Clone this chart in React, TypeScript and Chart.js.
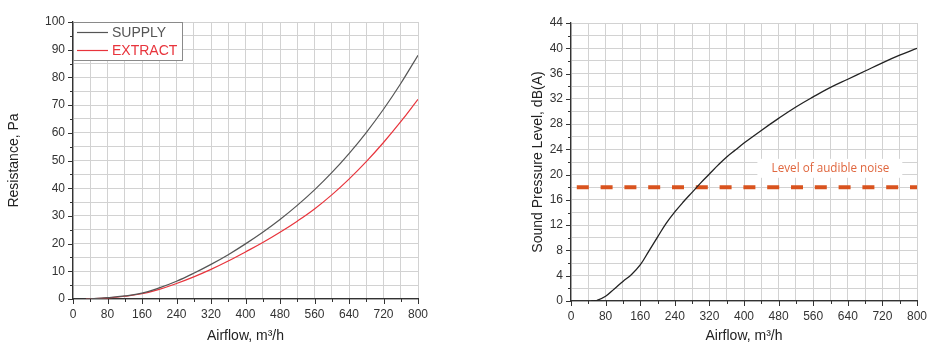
import React, { useEffect, useRef } from "react";
import { Chart, registerables } from "chart.js";

Chart.register(...registerables);

// ---------- data ----------
const resistanceAirflow = [30, 80, 120, 160, 200, 240, 280, 320, 360, 400, 440, 480, 520, 560, 600, 640, 680, 720, 760, 800];
const supplyResistance = [0, 0.5, 1.1, 2.1, 4.0, 6.4, 9.3, 12.5, 16.0, 19.9, 24.1, 28.7, 33.8, 39.4, 45.6, 52.5, 60.1, 68.5, 77.8, 88.0];
const extractResistance = [0, 0.4, 1.0, 1.9, 3.5, 5.6, 8.0, 10.7, 13.7, 17.0, 20.4, 24.1, 28.1, 32.5, 37.6, 43.3, 49.6, 56.5, 64.0, 72.1];

const soundAirflow = [47, 60, 80, 100, 120, 140, 160, 180, 200, 220, 240, 260, 280, 300, 320, 340, 360, 380, 400, 440, 480, 520, 560, 600, 640, 680, 720, 760, 800];
const soundLevel = [0, 0.1, 0.75, 1.9, 3.1, 4.2, 5.7, 7.9, 10.1, 12.3, 14.1, 15.7, 17.2, 18.7, 20.1, 21.5, 22.8, 23.9, 25.0, 27.0, 28.9, 30.7, 32.3, 33.8, 35.1, 36.4, 37.7, 38.9, 40.0];

const audibleLevel = 18;
const audibleRange = [0, 800];
const audibleLabel = "Level of audible noise";

const seriesNames = ["SUPPLY", "EXTRACT"];
const xTitle = "Airflow, m³/h";
const leftYTitle = "Resistance, Pa";
const rightYTitle = "Sound Pressure Level, dB(A)";

const FONT = '"Liberation Sans", Arial, sans-serif';

const toPoints = (xs: number[], ys: number[]) => xs.map((x, i) => ({ x, y: ys[i] }));

// ---------- plugins ----------
const axisTicksPlugin = {
  id: "axisTicks",
  afterDraw(chart: any, _args: any, opts: any) {
    const { ctx, chartArea } = chart;
    const xs = chart.scales.x;
    const ys = chart.scales.y;
    ctx.save();
    ctx.strokeStyle = "#333";
    ctx.lineWidth = 1;
    ys.ticks.forEach((t: any) => {
      const py = Math.round(ys.getPixelForValue(t.value)) + 0.5;
      const len = t.value % opts.yMajor === 0 ? 5 : 3;
      ctx.beginPath();
      ctx.moveTo(chartArea.left - len, py);
      ctx.lineTo(chartArea.left, py);
      ctx.stroke();
    });
    xs.ticks.forEach((t: any) => {
      const px = Math.round(xs.getPixelForValue(t.value)) + 0.5;
      const len = t.value % opts.xMajor === 0 ? 5 : 3;
      ctx.beginPath();
      ctx.moveTo(px, chartArea.bottom);
      ctx.lineTo(px, chartArea.bottom + len);
      ctx.stroke();
    });
    ctx.restore();
  },
};

const boxLegendPlugin = {
  id: "boxLegend",
  afterDatasetsDraw(chart: any) {
    const { ctx, chartArea } = chart;
    const x0 = chartArea.left;
    const y0 = chartArea.top;
    const w = 109;
    const h = 38;
    ctx.save();
    ctx.fillStyle = "#fff";
    ctx.fillRect(x0, y0, w, h);
    ctx.strokeStyle = "#8a8a8a";
    ctx.lineWidth = 1;
    ctx.strokeRect(x0 + 0.5, y0 + 0.5, w, h);
    chart.data.datasets.forEach((ds: any, i: number) => {
      const yy = y0 + 10.5 + i * 18;
      ctx.strokeStyle = ds.borderColor;
      ctx.lineWidth = 1.2;
      ctx.beginPath();
      ctx.moveTo(x0 + 4, yy);
      ctx.lineTo(x0 + 35, yy);
      ctx.stroke();
      ctx.fillStyle = ds.borderColor;
      ctx.font = `14px ${FONT}`;
      ctx.textBaseline = "middle";
      ctx.textAlign = "left";
      ctx.fillText(ds.label, x0 + 39, yy + 0.5);
    });
    ctx.restore();
  },
};

const thresholdLabelPlugin = {
  id: "thresholdLabel",
  beforeDatasetsDraw(chart: any, _args: any, opts: any) {
    const { ctx } = chart;
    const xs = chart.scales.x;
    const ys = chart.scales.y;
    const bx0 = xs.getPixelForValue(opts.boxX[0]);
    const bx1 = xs.getPixelForValue(opts.boxX[1]);
    const by0 = ys.getPixelForValue(opts.boxY[1]);
    const by1 = ys.getPixelForValue(opts.boxY[0]);
    ctx.save();
    ctx.fillStyle = "#fff";
    ctx.fillRect(bx0, by0, bx1 - bx0, by1 - by0);
    ctx.fillStyle = "#e0673f";
    ctx.font = `11.7px "Open Sans", "Noto Sans", sans-serif`;
    ctx.textAlign = "center";
    ctx.textBaseline = "middle";
    ctx.fillText(opts.text, xs.getPixelForValue(opts.textX), ys.getPixelForValue(opts.textY));
    ctx.restore();
  },
};

// ---------- shared scale builders ----------
function xScale(height: number) {
  return {
    type: "linear" as const,
    min: 0,
    max: 800,
    afterFit: (s: any) => {
      s.height = height;
    },
    grid: { color: "#d2d2d2", lineWidth: 1, drawTicks: false },
    border: { color: "#333", width: 1.3 },
    ticks: {
      stepSize: 40,
      autoSkip: false,
      maxRotation: 0,
      padding: 8,
      color: "#333",
      font: { family: FONT, size: 12 },
      callback: (v: any) => (Number(v) % 80 === 0 ? String(v) : ""),
    },
    title: {
      display: true,
      text: xTitle,
      color: "#222",
      font: { family: FONT, size: 14 },
      padding: { top: 0, bottom: 9 },
    },
  };
}

function yScale(max: number, step: number, major: number, width: number, title: string, titlePad: number) {
  return {
    type: "linear" as const,
    min: 0,
    max,
    afterFit: (s: any) => {
      s.width = width;
    },
    grid: { color: "#d2d2d2", lineWidth: 1, drawTicks: false },
    border: { color: "#333", width: 1.3 },
    ticks: {
      stepSize: step,
      autoSkip: false,
      padding: 8,
      color: "#333",
      font: { family: FONT, size: 12 },
      callback: (v: any) => (Number(v) % major === 0 ? String(v) : ""),
    },
    title: {
      display: true,
      text: title,
      color: "#222",
      font: { family: FONT, size: 14 },
      padding: { top: titlePad, bottom: 0 },
    },
  };
}

// ---------- charts ----------
function ResistanceChart() {
  const ref = useRef<HTMLCanvasElement | null>(null);
  useEffect(() => {
    if (!ref.current) return;
    const chart = new Chart(ref.current, {
      type: "line",
      data: {
        datasets: [
          {
            label: seriesNames[0],
            data: toPoints(resistanceAirflow, supplyResistance),
            borderColor: "#555555",
            borderWidth: 1.2,
            pointRadius: 0,
            tension: 0.4,
            fill: false,
          } as any,
          {
            label: seriesNames[1],
            data: toPoints(resistanceAirflow, extractResistance),
            borderColor: "#e8343c",
            borderWidth: 1.2,
            pointRadius: 0,
            tension: 0.4,
            fill: false,
          } as any,
        ],
      },
      options: {
        responsive: false,
        animation: false,
        layout: { padding: { left: 0, top: 22, right: 54, bottom: 0 } },
        plugins: {
          legend: { display: false },
          tooltip: { enabled: false },
          axisTicks: { xMajor: 80, yMajor: 10 },
        } as any,
        scales: {
          x: xScale(55),
          y: yScale(100, 5, 10, 73, leftYTitle, 6),
        } as any,
      },
      plugins: [axisTicksPlugin, boxLegendPlugin],
    });
    return () => chart.destroy();
  }, []);
  return <canvas ref={ref} width={472} height={354} style={{ display: "block" }} />;
}

function SoundChart() {
  const ref = useRef<HTMLCanvasElement | null>(null);
  useEffect(() => {
    if (!ref.current) return;
    const chart = new Chart(ref.current, {
      type: "line",
      data: {
        datasets: [
          {
            label: "Sound Pressure Level",
            data: toPoints(soundAirflow, soundLevel),
            borderColor: "#222222",
            borderWidth: 1.3,
            pointRadius: 0,
            tension: 0.4,
            fill: false,
          } as any,
          {
            label: audibleLabel,
            data: audibleRange.map((x) => ({ x, y: audibleLevel })),
            borderColor: "#d9531e",
            borderWidth: 4,
            borderDash: [12, 11.8],
            borderDashOffset: 18,
            borderCapStyle: "butt",
            pointRadius: 0,
            fill: false,
          } as any,
        ],
      },
      options: {
        responsive: false,
        animation: false,
        layout: { padding: { left: 0, top: 23, right: 27, bottom: 0 } },
        plugins: {
          legend: { display: false },
          tooltip: { enabled: false },
          axisTicks: { xMajor: 80, yMajor: 4 },
          thresholdLabel: {
            text: audibleLabel,
            boxX: [431, 766],
            boxY: [19.5, 22.5],
            textX: 600,
            textY: 21,
          },
        } as any,
        scales: {
          x: xScale(53),
          y: yScale(44, 2, 4, 99, rightYTitle, 58),
        } as any,
      },
      plugins: [axisTicksPlugin, thresholdLabelPlugin],
    });
    return () => chart.destroy();
  }, []);
  return <canvas ref={ref} width={472} height={354} style={{ display: "block" }} />;
}

export default function App() {
  return (
    <div
      style={{
        position: "absolute",
        left: 0,
        top: 0,
        width: 944,
        height: 354,
        background: "#fff",
        overflow: "hidden",
      }}
    >
      <div style={{ position: "absolute", left: 0, top: 0 }}>
        <ResistanceChart />
      </div>
      <div style={{ position: "absolute", left: 472, top: 0 }}>
        <SoundChart />
      </div>
    </div>
  );
}
